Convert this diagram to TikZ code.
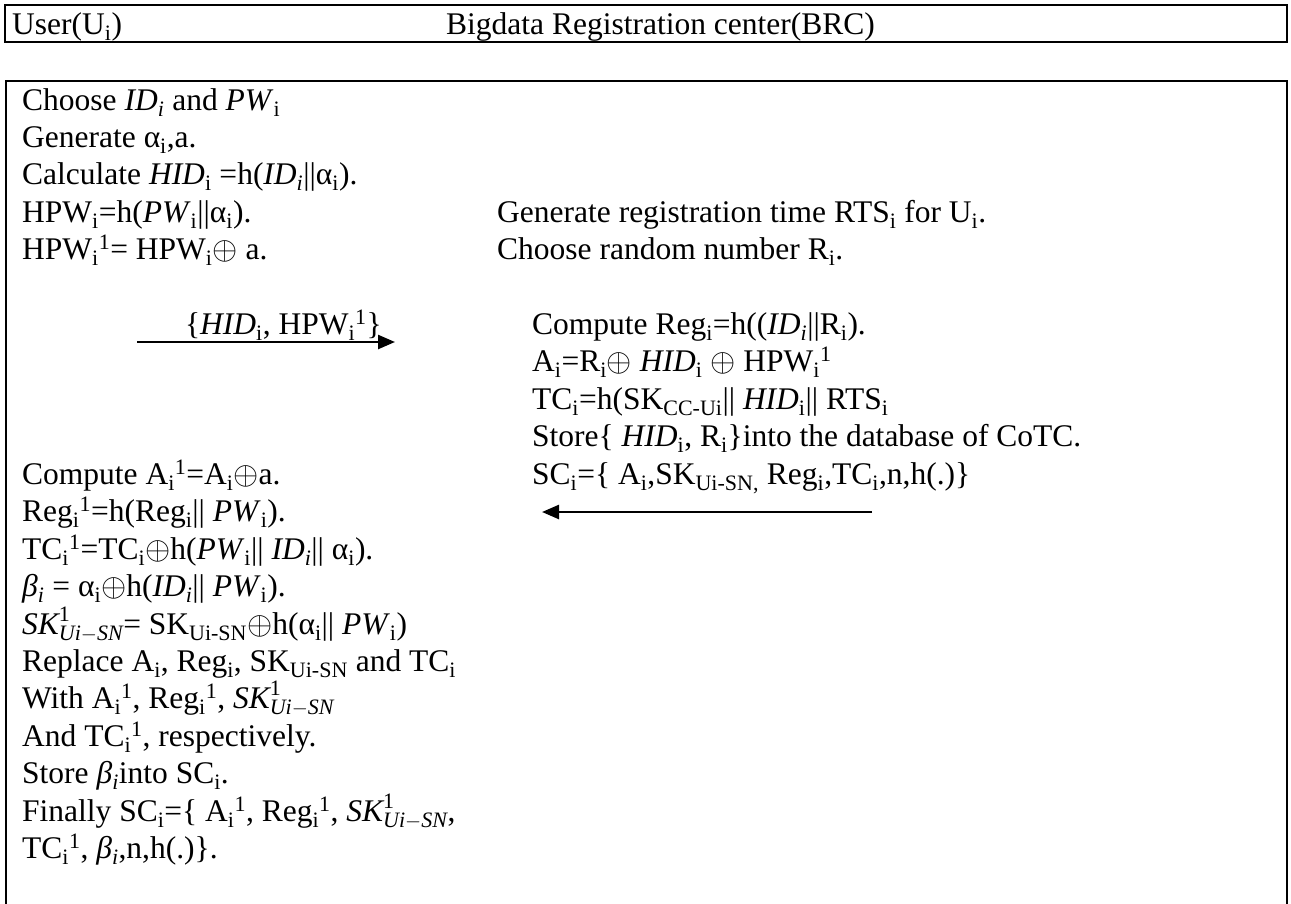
\documentclass[tikz,border=0pt]{standalone}
\usepackage{fontspec}
\setmainfont{Liberation Serif}
\usepackage{graphicx}
\usetikzlibrary{arrows.meta}
\DeclareMathSizes{31.5}{31.5}{22}{16}
\newcommand{\sbi}[1]{\textsubscript{#1}}
\newcommand{\spi}[1]{\textsuperscript{#1}}
\newcommand{\xor}{\scalebox{1.3}{$\oplus$}}
\newcommand{\bet}{\textit{β}\textsubscript{\textit{i}}}
\newcommand{\skone}{$\mathit{SK}^{\mathrm{1}}_{\mathit{Ui}-\mathit{SN}}$}
\begin{document}
\begin{tikzpicture}[x=1pt,y=-1pt,
  txt/.style={anchor=base west,inner sep=0pt,font=\fontsize{31.5}{37}\selectfont},
  lbl/.style={anchor=base east,inner sep=0pt,font=\fontsize{31.5}{37}\selectfont},
  frame/.style={line width=2.6pt},
  msg/.style={line width=2.5pt,-{Triangle[length=17pt,width=14pt]}}]
\useasboundingbox (0,0) rectangle (1291,903);
\fill[white] (0,0) rectangle (1291,903);
% header
\draw[frame] (5,5) rectangle (1287,42);
\node[txt] (hu) at (12,34) {User(U\sbi{i})};
\node[txt] (hb) at (446,34) {Bigdata Registration center(BRC)};
% body frame
\draw[frame] (6,905) -- (6,81) -- (1287,81) -- (1287,905);
% left column
\node[txt] (l1) at (22,110) {Choose \textit{ID\sbi{i}} and \textit{PW}\sbi{i}};
\node[txt] (l2) at (22,147) {Generate α\sbi{i},a.};
\node[txt] (l3) at (22,184) {Calculate \textit{HID}\sbi{i} =h(\textit{ID\sbi{i}}||α\sbi{i}).};
\node[txt] (l4) at (22,222) {HPW\sbi{i}=h(\textit{PW}\sbi{i}||α\sbi{i}).};
\node[txt] (l5) at (22,259) {HPW\sbi{i}\spi{1}= HPW\sbi{i}\xor{} a.};
\node[txt] (l11) at (22,484) {Compute A\sbi{i}\spi{1}=A\sbi{i}\xor{}a.};
\node[txt] (l12) at (22,521) {Reg\sbi{i}\spi{1}=h(Reg\sbi{i}|| \textit{PW}\sbi{i}).};
\node[txt] (l13) at (22,559) {TC\sbi{i}\spi{1}=TC\sbi{i}\xor{}h(\textit{PW}\sbi{i}|| \textit{ID\sbi{i}}|| α\sbi{i}).};
\node[txt] (l14) at (22,596) {\bet{} = α\sbi{i}\xor{}h(\textit{ID\sbi{i}}|| \textit{PW}\sbi{i}).};
\node[txt] (l15) at (22,634) {\skone= SK\sbi{Ui-SN}\xor{}h(α\sbi{i}|| \textit{PW}\sbi{i})};
\node[txt] (l16) at (22,671) {Replace A\sbi{i}, Reg\sbi{i}, SK\sbi{Ui-SN} and TC\sbi{i}};
\node[txt] (l17) at (22,708) {With A\sbi{i}\spi{1}, Reg\sbi{i}\spi{1}, \skone};
\node[txt] (l18) at (22,746) {And TC\sbi{i}\spi{1}, respectively.};
\node[txt] (l19) at (22,783) {Store \bet{}into SC\sbi{i}.};
\node[txt] (l20) at (22,821) {Finally SC\sbi{i}=\{ A\sbi{i}\spi{1}, Reg\sbi{i}\spi{1}, \skone,};
\node[txt] (l21) at (22,858) {TC\sbi{i}\spi{1}, \bet{},n,h(.)\}.};
% right column
\node[txt] (r4) at (497,222) {Generate registration time RTS\sbi{i} for U\sbi{i}.};
\node[txt] (r5) at (497,259) {Choose random number R\sbi{i}.};
\node[txt] (r7) at (532,334) {Compute Reg\sbi{i}=h((\textit{ID\sbi{i}}||R\sbi{i}).};
\node[txt] (r8) at (532,371) {A\sbi{i}=R\sbi{i}\xor{} \textit{HID}\sbi{i} \xor{} HPW\sbi{i}\spi{1}};
\node[txt] (r9) at (532,409) {TC\sbi{i}=h(SK\sbi{CC-Ui}|| \textit{HID}\sbi{i}|| RTS\sbi{i}};
\node[txt] (r10) at (532,446) {Store\{ \textit{HID}\sbi{i}, R\sbi{i}\}into the database of CoTC.};
\node[txt] (r11) at (532,484) {SC\sbi{i}=\{ A\sbi{i},SK\sbi{Ui-SN,} Reg\sbi{i},TC\sbi{i},n,h(.)\}};
% messages
\coordinate (a1s) at (137,342);
\coordinate (a1e) at (395,342);
\draw[msg] (a1s) -- (a1e);
\node[lbl] (m1) at (382,334) {\{\textit{HID}\sbi{i}, HPW\sbi{i}\spi{1}\}};
\coordinate (a2s) at (872,512);
\coordinate (a2e) at (542,512);
\draw[msg] (a2s) -- (a2e);
\end{tikzpicture}
\end{document}
